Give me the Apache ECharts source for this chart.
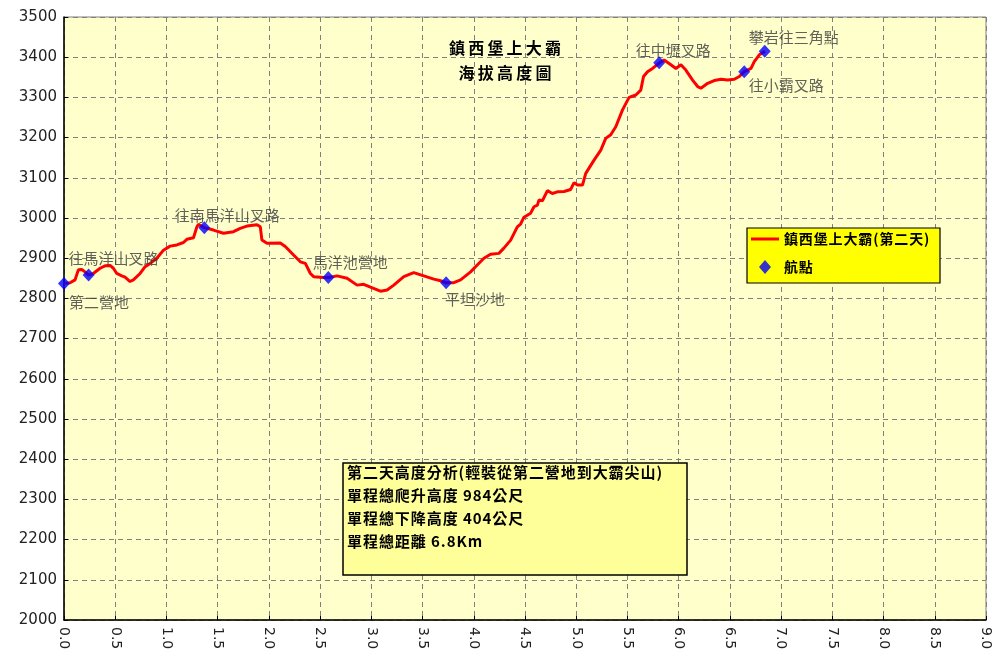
<!DOCTYPE html>
<html>
<head>
<meta charset="utf-8">
<script src="https://cdn.jsdelivr.net/npm/echarts@6/dist/echarts.min.js"></script>
<style>
  html, body { margin: 0; padding: 0; background: #fff; }
  #main { width: 1003px; height: 666px; }
</style>
</head>
<body>
<div id="main"></div>
<script>
// 軌跡：距離(公里)、海拔(公尺)
var trackX = [0.000, 0.059, 0.108, 0.140, 0.173, 0.205, 0.238, 0.286, 0.352, 0.401,
  0.450, 0.482, 0.515, 0.564, 0.596, 0.645, 0.677, 0.743, 0.792, 0.841,
  0.906, 0.971, 1.036, 1.102, 1.166, 1.199, 1.264, 1.297, 1.313, 1.369,
  1.459, 1.557, 1.655, 1.720, 1.786, 1.884, 1.916, 1.932, 1.981, 2.111,
  2.160, 2.241, 2.307, 2.356, 2.405, 2.437, 2.535, 2.584, 2.666, 2.763,
  2.861, 2.926, 2.991, 3.089, 3.154, 3.219, 3.317, 3.414, 3.512, 3.610,
  3.675, 3.731, 3.805, 3.871, 3.969, 4.034, 4.099, 4.164, 4.245, 4.294,
  4.360, 4.425, 4.457, 4.490, 4.555, 4.588, 4.621, 4.637, 4.670, 4.719,
  4.767, 4.816, 4.881, 4.946, 4.979, 5.012, 5.061, 5.093, 5.125, 5.174,
  5.240, 5.288, 5.337, 5.386, 5.452, 5.516, 5.582, 5.630, 5.657, 5.696,
  5.745, 5.813, 5.858, 5.924, 5.973, 6.022, 6.070, 6.136, 6.185, 6.217,
  6.283, 6.347, 6.413, 6.478, 6.543, 6.592, 6.640, 6.706, 6.738, 6.787, 6.843];
var trackY = [2837, 2839, 2846, 2871, 2872, 2866, 2858, 2862, 2875, 2881,
  2882, 2875, 2862, 2856, 2853, 2842, 2846, 2862, 2879, 2887,
  2900, 2920, 2930, 2933, 2939, 2947, 2951, 2978, 2984, 2976,
  2970, 2962, 2966, 2974, 2980, 2983, 2978, 2945, 2937, 2938,
  2929, 2908, 2891, 2887, 2862, 2854, 2852, 2852, 2856, 2850,
  2833, 2835, 2828, 2818, 2821, 2833, 2854, 2864, 2856, 2848,
  2844, 2839, 2839, 2846, 2866, 2883, 2900, 2910, 2912, 2925,
  2945, 2978, 2985, 3002, 3012, 3028, 3032, 3045, 3043, 3068,
  3061, 3065, 3066, 3071, 3088, 3082, 3082, 3111, 3124, 3144,
  3169, 3198, 3207, 3227, 3269, 3300, 3306, 3318, 3352, 3364,
  3372, 3386, 3393, 3381, 3372, 3381, 3368, 3343, 3327, 3323,
  3335, 3342, 3345, 3343, 3345, 3352, 3364, 3372, 3389, 3406, 3415];

// 航點
var wpNames = ['第二營地', '往馬洋山叉路', '往南馬洋山叉路', '馬洋池營地', '平坦沙地', '往中壢叉路', '往小霸叉路', '攀岩往三角點'];
var wpX = [0, 0.24, 1.37, 2.58, 3.73, 5.81, 6.64, 6.84];
var wpY = [2837, 2858, 2976, 2852, 2839, 3386, 3364, 3415];

var xTicks = ['0.0', '0.5', '1.0', '1.5', '2.0', '2.5', '3.0', '3.5', '4.0', '4.5', '5.0', '5.5', '6.0', '6.5', '7.0', '7.5', '8.0', '8.5', '9.0'];

var titleLines = ['鎮西堡上大霸', '海拔高度圖'];
var noteLines = ['第二天高度分析(輕裝從第二營地到大霸尖山)', '單程總爬升高度 984公尺', '單程總下降高度 404公尺', '單程總距離 6.8Km'];
var lineName = '鎮西堡上大霸(第二天)';
var pointName = '航點';

// 標籤位置 (樣式)
var labelPos = {
  '第二營地': ['bottom', [35, 2]],
  '往馬洋山叉路': ['top', [25, 0]],
  '往南馬洋山叉路': ['top', [23, 5]],
  '馬洋池營地': ['top', [22, 2]],
  '平坦沙地': ['bottom', [29, 0]],
  '往中壢叉路': ['top', [14, 4]],
  '往小霸叉路': ['bottom', [42, -3]],
  '攀岩往三角點': ['top', [29, 3]]
};

var lineData = trackX.map(function (x, i) { return [x, trackY[i]]; });
var pointData = wpX.map(function (x, i) {
  var p = labelPos[wpNames[i]];
  return {
    value: [x, wpY[i]],
    label: { show: true, formatter: wpNames[i], position: p[0], offset: p[1], distance: 3 }
  };
});

var font = '"Noto Sans CJK TC", "Noto Sans", sans-serif';

function spaced(t, s) { return t.split('').join(s || '\u2009'); }

var myChart = echarts.init(document.getElementById('main'));
var option = {
  animation: false,
  backgroundColor: '#ffffff',
  grid: {
    left: 64, right: 17, top: 17, bottom: 46,
    show: true,
    backgroundColor: '#FFFFCC',
    borderColor: '#808080',
    borderWidth: 1
  },
  xAxis: {
    type: 'value',
    min: 0, max: 9, interval: 0.5,
    axisLine: { show: true, onZero: false, lineStyle: { color: '#000', width: 1.5 } },
    axisTick: { show: true, inside: true, length: 4, lineStyle: { color: '#000' } },
    axisLabel: {
      rotate: -90, margin: 7,
      fontFamily: '"DejaVu Sans", sans-serif', fontSize: 14, color: '#222',
      formatter: function (v) { return xTicks[Math.round(v * 2)]; }
    },
    splitLine: { show: true, lineStyle: { color: '#808080', type: [5, 4], width: 1 } }
  },
  yAxis: {
    type: 'value',
    min: 2000, max: 3500, interval: 100,
    axisLine: { show: true, lineStyle: { color: '#000', width: 1.5 } },
    axisTick: { show: true, inside: true, length: 4, lineStyle: { color: '#000' } },
    axisLabel: {
      margin: 7, fontFamily: '"DejaVu Sans", sans-serif', fontSize: 15, color: '#222',
      formatter: function (v) { return String(v); }
    },
    splitLine: { show: true, lineStyle: { color: '#808080', type: [5, 4], width: 1 } }
  },
  legend: {
    orient: 'vertical',
    left: 751, top: 232,
    itemWidth: 28, itemHeight: 14, itemGap: 14,
    padding: 0,
    symbolKeepAspect: true,
    formatter: function (n) { return spaced(n, '\u200A'); },
    textStyle: { fontFamily: font, fontSize: 14, fontWeight: 'bold', color: '#000' },
    data: [
      { name: lineName, icon: 'path://M0,0 L28,0 L28,3 L0,3 Z', itemStyle: { color: '#FF0000' } },
      { name: pointName, icon: 'path://M6,0 L12,7 L6,14 L0,7 Z', itemStyle: { color: '#0000FF' } }
    ]
  },
  graphic: [
    {
      type: 'rect', z: 1,
      shape: { x: 747, y: 228, width: 193, height: 55 },
      style: { fill: '#FFFF00', stroke: '#000', lineWidth: 1.2 }
    },
    {
      type: 'rect', z: 1,
      shape: { x: 343, y: 463, width: 344, height: 112 },
      style: { fill: '#FFFF99', stroke: '#000', lineWidth: 1.5 }
    },
    { type: 'text', z: 2, style: { x: 505, y: 48, text: spaced(titleLines[0]), align: 'center', verticalAlign: 'middle', font: 'bold 16px ' + font, fill: '#000' } },
    { type: 'text', z: 2, style: { x: 505, y: 73, text: spaced(titleLines[1]), align: 'center', verticalAlign: 'middle', font: 'bold 16px ' + font, fill: '#000' } },
    { type: 'text', z: 2, style: { x: 347, y: 472, text: spaced(noteLines[0], '\u200A'), align: 'left', verticalAlign: 'middle', font: 'bold 15px ' + font, fill: '#000' } },
    { type: 'text', z: 2, style: { x: 347, y: 495, text: spaced(noteLines[1], '\u200A'), align: 'left', verticalAlign: 'middle', font: 'bold 15px ' + font, fill: '#000' } },
    { type: 'text', z: 2, style: { x: 347, y: 518, text: spaced(noteLines[2], '\u200A'), align: 'left', verticalAlign: 'middle', font: 'bold 15px ' + font, fill: '#000' } },
    { type: 'text', z: 2, style: { x: 347, y: 541, text: spaced(noteLines[3], '\u200A'), align: 'left', verticalAlign: 'middle', font: 'bold 15px ' + font, fill: '#000' } }
  ],
  series: [
    {
      name: lineName,
      type: 'line',
      data: lineData,
      symbol: 'none',
      lineStyle: { color: '#FF0000', width: 3 },
      itemStyle: { color: '#FF0000' },
      z: 3
    },
    {
      name: pointName,
      type: 'scatter',
      data: pointData,
      symbol: 'diamond',
      symbolSize: [12, 13],
      itemStyle: { color: '#0000FF' },
      label: { fontFamily: font, fontSize: 15, color: '#3a3a3a' },
      z: 4
    }
  ]
};
myChart.setOption(option);
</script>
</body>
</html>
